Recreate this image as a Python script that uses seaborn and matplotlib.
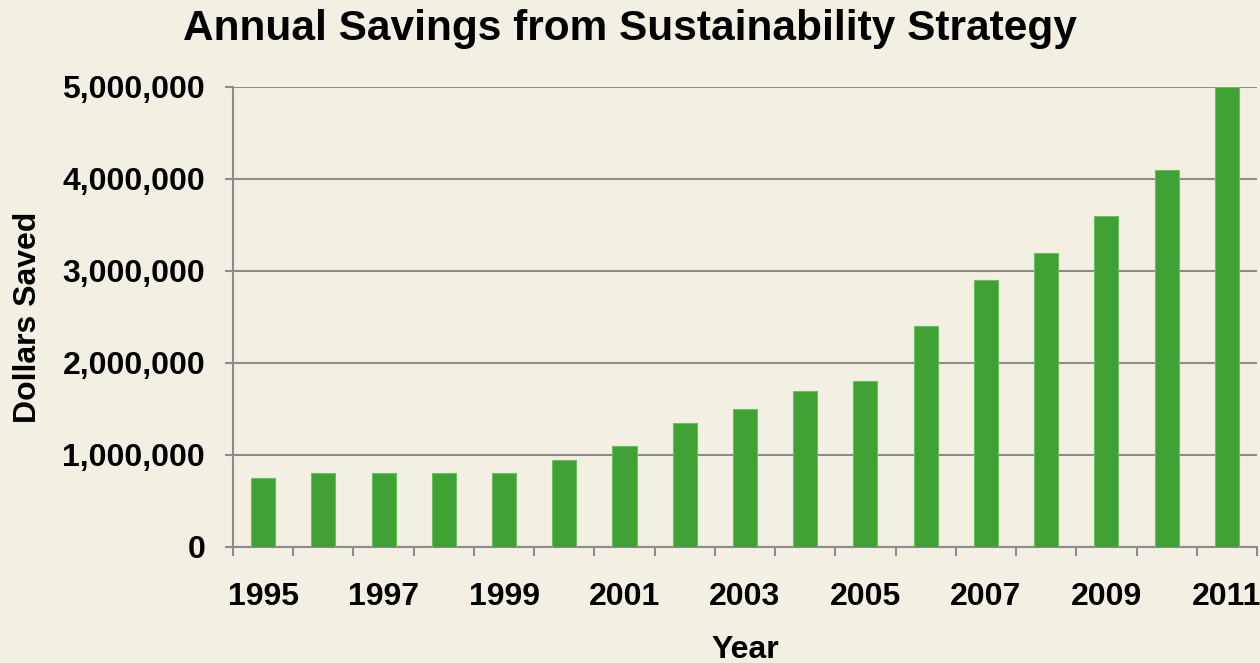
import matplotlib
matplotlib.use("Agg")
import matplotlib.pyplot as plt
import seaborn as sns
import numpy as np
import pandas as pd

years = [str(y) for y in range(1995, 2012)]
savings = [750000, 800000, 800000, 800000, 800000, 950000, 1100000, 1350000,
           1500000, 1700000, 1800000, 2400000, 2900000, 3200000, 3600000,
           4100000, 5000000]
tick_labels = [y if (int(y) % 2 == 1) else "" for y in years]
y_ticks = [0, 1000000, 2000000, 3000000, 4000000, 5000000]

BG = "#F3EFE3"
GREEN = "#3FA033"
GRID = "#8C8C8C"

sns.set_theme(style="white")
plt.rcParams["font.family"] = ["Liberation Sans", "DejaVu Sans"]
plt.rcParams["text.color"] = "black"
plt.rcParams["xtick.labelcolor"] = "black"
plt.rcParams["ytick.labelcolor"] = "black"
plt.rcParams["axes.labelcolor"] = "black"

fig = plt.figure(figsize=(12.6, 6.63), dpi=100, facecolor=BG)
ax = fig.add_axes([0.1849, 0.175, 0.8127, 0.6938])
ax.set_facecolor(BG)

df = pd.DataFrame({"Year": years, "Savings": savings})
sns.barplot(data=df, x="Year", y="Savings", color=GREEN, width=0.4,
            saturation=1, edgecolor="#6CBF5E", linewidth=0.8, ax=ax, zorder=3)

ax.set_xlim(-0.5, len(years) - 0.5)
ax.set_ylim(0, 5000000)
ax.set_yticks(y_ticks)
ax.set_yticklabels([f"{v:,}" for v in y_ticks], fontsize=23, fontweight="bold")
ax.set_xticks(range(len(years)))
ax.set_xticklabels(tick_labels, fontsize=23, fontweight="bold")
ax.set_xticks(np.arange(-0.5, len(years), 1), minor=True)
ax.tick_params(axis="x", which="major", length=0, pad=25)
ax.tick_params(axis="x", which="minor", length=6.5, width=1.5, color=GRID, direction="out", bottom=True)
ax.tick_params(axis="y", which="major", length=6, width=1.5, color=GRID, direction="out", left=True, pad=14)

ax.grid(axis="y", color=GRID, linewidth=1.5, zorder=0)
ax.grid(axis="x", visible=False)
for s in ["top", "right"]:
    ax.spines[s].set_visible(False)
for s in ["left", "bottom"]:
    ax.spines[s].set_color(GRID)
    ax.spines[s].set_linewidth(1.5)

ax.set_xlabel("Year", fontsize=23, fontweight="bold", labelpad=17)
ax.set_ylabel("Dollars Saved", fontsize=23, fontweight="bold", labelpad=14)
fig.text(0.5, 0.957, "Annual Savings from Sustainability Strategy", ha="center", va="center",
         fontsize=30.5, fontweight="bold")

fig.savefig("out.png", dpi=100, facecolor=BG)
